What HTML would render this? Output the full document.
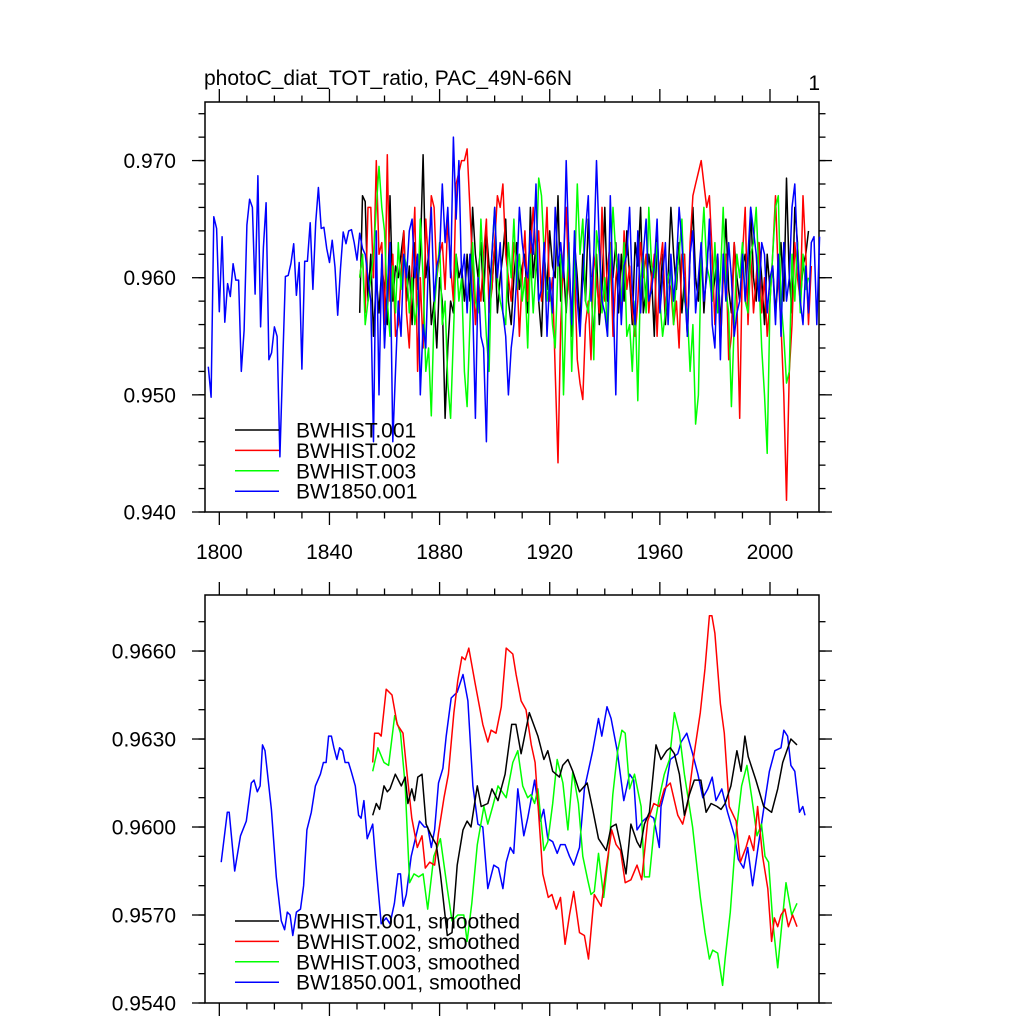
<!DOCTYPE html>
<html><head><meta charset="utf-8">
<style>
html,body{margin:0;padding:0;background:#fff;}
svg{display:block;font-family:"Liberation Sans",sans-serif;}
</style></head>
<body>
<svg id="chart" width="1024" height="1024" viewBox="0 0 1024 1024">
<text x="204" y="85" font-size="21">photoC_diat_TOT_ratio, PAC_49N-66N</text>
<text x="820" y="90" font-size="21" text-anchor="end">1</text>
<g id="top"></g>
<g id="bot"></g>
</svg>
<script>
// ---- data: top panel raw annual series (thousandths) ----
const blueStart = 1796;
const histStart = 1851;
const blueRaw = [952.4,949.8,965.2,964.2,957.1,963.5,956.2,959.5,958.4,961.2,959.8,959.8,952.0,955.5,964.5,966.7,966.0,958.6,968.7,955.8,962.6,966.4,953.0,953.6,955.8,955.0,944.7,952.4,960.1,960.2,961.2,962.9,958.5,961.3,952.2,961.4,961.4,964.7,959.0,964.7,967.7,964.2,964.3,962.5,961.3,963.2,960.9,956.8,960.8,963.9,962.9,964.0,964.1,963,961.5,963.8,962.5,
962,960,958,946,964,950,962,954,959,963,946,952,958,955,962,960,964,965,960,962,950,956,954,962,966,958,961,962,968,963,966,960,972,965,970,960,962,957,962,958,948,960,955,954,946,958,962,966,960,963,957,955,950,954,956,960,966,963,961,960,964,962,968,958,959,963,955,960,957,966,961,963,960,970,962,956,964,958,955,960,964,967,958,962,970,963,958,957,955,967,959,950,962,956,961,962,966,959,956,964,957,962,965,958,959,961,965,957,960,963,956,962,958,961,966,963,959,955,962,964,957,960,963,958,960,965,956,954,962,953,962,958,963,960,955,957,958,962,958,962,966,964,962,958,963,962,957,960,961,956,962,955,963,958,960,966,968,962,958,956,961,957,963,963.5,956,963.5];
const blackRaw = [957,967,966.5,958,962,955,960,957,961,959,956,967,958,961,960,962,964,958,961,956,963,959,962,970.5,960,962,956,958,954,960,958,948,954,958,957,962,960,961,958,962,958,966,962,960,963,958,964,961,959,963,957,960,962,965,958,956,960,963,959,961,962,957,966,960,963,958,955,962,959,964,961,960,967,958,961,957,962,955,963,960,956,962,958,965,960,954,962,956,959,966,958,961,960,963,957,962,958,964,960,956,963,961,966,957,959,962,960,955,964,958,962,956,960,966,962,959,963,957,960,955,962,966,960,958,963,957,961,964,958,960,962,956,960,965,959,957,963,960,958,961,962,957,966,960,958,963,960,956,962,959,961,957,960,963,958,968.5,960,957,966,963,958,961,962,964];
const redRaw = [960,962,957,966,966,960,970,962,963,956,970.5,958,962,955,956,960,964,957,954,961,966,952,960,954,965,961,967,966,960,962,963,959,965,961,958,968,969,970,970,971,966,961,956,960,958,962,965,957,959,963,967,966,968,962,960,958,963,961,955,960,964,958,962,966,962,964,958,961,966,958,960,952,944.2,956,962,966,959,957,961,953,951,949.6,956,958,953,962,960,957,966,958,961,963,955,960,962,957,964,959,961,957,955,958,963,960,962,957,960,962,955,961,963,957,960,959,956,958,954,962,962,955,963,967,968,969,970,968,966,967,962,956,962,954,960,962,953,955,963,958,948,962,966,956,962,957,960,963,957,960,955,958,962,967,960,956,950,941,952,956,963,960,958,967,962,956,961];
const greenRaw = [960,962,956,958,960,962,966,969.5,966,964,958,955,961,957,963,959,962,961,957,960,956,958,965,960,952,954,948.2,957,960,963,956,958,951,948,955,962,958,960,952,949,956,963,958,957,965,960,955,952,962,966,960,958,957,956,963,960,965,959,962,958,960,954,962,957,961,968.5,967,962,958,960,956,954,961,962,950,958,963,952,960,968,962,965,958,957,960,953,964,962,957,960,955,961,966,962,960,958,963,955,956,952,958,949.5,960,962,957,966,961,960,963,958,955,957,960,961,956,960,962,965,958,957,952,956,947.5,950,962,966,961,960,958,963,957,960,966,959,957,949,956,962,960,963,958,957,962,963,966,960,954,950,945,958,962,966,967,958,955,951,952,962,958,963,957,962,959,960];
// ---- data: bottom panel smoothed series (years, values x1e-4) ----
const blueSmYears = [1800.7,1802.9,1803.6,1805.6,1807.7,1809.8,1811.6,1812.6,1813.8,1814.8,1815.7,1816.6,1818.9,1820.7,1822.5,1823.7,1824.7,1825.7,1826.7,1828,1829.5,1830.6,1831.8,1833.4,1834.9,1836.7,1837.8,1838.8,1839.7,1840.7,1841.6,1842.7,1843.7,1844.8,1845.7,1846.9,1847.9,1849.4,1850.6,1851.5,1852.5,1853.7,1855.7,1856.9,1858.8,1860.6,1862,1863.6,1864.9,1865.8,1866.8,1867.9,1869.7,1872.7,1874.5,1875.7,1877,1878.2,1879.6,1881.2,1882.4,1884.2,1886.4,1888.5,1890.3,1892.1,1893.9,1895.7,1897.5,1899.7,1901.4,1903,1904.2,1905.7,1906.9,1908.4,1910.6,1912,1914.5,1916.6,1917.8,1919.3,1921.1,1922.7,1923.9,1925.6,1927.2,1928.7,1930.8,1932.6,1935.6,1937.7,1938.9,1940.8,1942.3,1944.5,1946.9,1949,1950.5,1951.7,1953.8,1956.2,1957.8,1959.8,1960.4,1962.3,1963.8,1966.5,1967.7,1969.8,1971.9,1973.8,1975.6,1977.4,1979,1980.4,1982.5,1984.6,1987.1,1988.5,1990.4,1991.9,1993.7,1995.5,1998,1999.8,2001.8,2004,2005,2006.4,2007.6,2009,2010.7,2011.9,2012.7];
const blueSm = [9588,9605,9605,9585,9597,9602,9615,9616,9612,9614,9628,9626,9606,9583,9568,9565,9571,9570,9563,9571,9572,9580,9599,9605,9614,9618,9622,9622,9631,9631,9627,9623,9627,9626,9622,9622,9619,9614,9604,9603,9609,9596,9601,9587,9567,9569,9567,9574,9584,9584,9573,9577,9590,9602,9600,9600,9593,9599,9615,9620,9631,9644,9646,9652,9643,9614,9601,9600,9579,9587,9586,9579,9588,9593,9591,9613,9597,9603,9616,9602,9606,9596,9595,9591,9594,9594,9590,9587,9593,9613,9626,9637,9631,9641,9637,9626,9609,9618,9616,9599,9602,9604,9603,9593,9607,9614,9623,9625,9629,9632,9625,9618,9610,9613,9617,9609,9613,9605,9597,9589,9586,9593,9580,9592,9608,9619,9626,9627,9633,9631,9621,9619,9605,9607,9604];
const redSmYears = [1855.7,1856.4,1857.9,1858.8,1860.6,1862.7,1864.6,1866.7,1868.2,1869.9,1871.9,1873.6,1874.8,1876.4,1878.2,1879.6,1881.6,1883.2,1885.2,1886.6,1888.1,1889.3,1890.6,1892.9,1895.7,1897.5,1898.7,1900.5,1902.4,1904.2,1906.6,1907.8,1909.6,1911.4,1913.3,1914.7,1917.5,1919.5,1920.8,1922.4,1923.9,1925.6,1927.2,1928.7,1930.8,1932.6,1934.1,1936.2,1938.7,1940.5,1942.5,1944.1,1945.7,1947.4,1949.5,1951.7,1953.4,1955.6,1957.8,1959.8,1961.6,1963.8,1966.5,1968.3,1970.1,1972.3,1974.7,1976.4,1978,1978.9,1980,1982,1983.4,1985.2,1987.7,1989.2,1991.3,1992.5,1994.1,1995.5,1997.3,1999.2,2000.6,2001.6,2002.8,2004,2005.4,2006.7,2008.2,2009.8];
const redSm = [9622,9632,9632,9631,9647,9645,9635,9632,9618,9603,9593,9597,9586,9588,9587,9598,9610,9618,9639,9650,9658,9657,9661,9649,9635,9629,9633,9632,9641,9661,9659,9652,9643,9640,9628,9622,9584,9576,9577,9572,9576,9560,9570,9578,9564,9563,9555,9577,9573,9586,9599,9594,9592,9581,9582,9587,9582,9602,9608,9607,9613,9615,9604,9601,9608,9624,9639,9654,9672,9672,9666,9642,9632,9607,9602,9588,9593,9597,9592,9607,9590,9579,9561,9569,9566,9570,9572,9566,9570,9566];
const blackSmYears = [1855.7,1857,1858.2,1859.8,1861,1862,1863.9,1866.1,1867.5,1868.5,1869.9,1870.9,1872.1,1873.6,1875.1,1877,1878.8,1880.3,1882.8,1884.5,1886.4,1888.5,1890,1891.4,1893.7,1895.1,1897.5,1899,1901.2,1903.8,1906.2,1907.7,1909.6,1912.6,1915.7,1917.9,1919.3,1921.1,1923.5,1924.7,1926.6,1928.4,1930.8,1933.6,1935.6,1937.7,1940.5,1942.3,1944.1,1945.7,1947.7,1949.5,1951.7,1952.9,1954.4,1956.2,1958.6,1960.4,1962.5,1963.8,1965.3,1967.1,1968.9,1970.7,1972.5,1974.9,1976.8,1978.6,1980.8,1982.2,1983.7,1985.8,1988,1989.5,1990.9,1992.1,1994.9,1997.7,2000.6,2002.8,2004.6,2007.6,2009.8];
const blackSm = [9604,9608,9606,9614,9612,9613,9618,9614,9617,9608,9613,9609,9617,9618,9601,9597,9594,9584,9563,9564,9587,9599,9602,9600,9614,9607,9608,9613,9609,9618,9635,9635,9625,9639,9631,9623,9626,9619,9617,9621,9623,9619,9612,9615,9606,9596,9592,9600,9601,9594,9584,9601,9595,9593,9601,9605,9628,9623,9626,9627,9625,9618,9604,9611,9616,9616,9605,9608,9607,9606,9608,9614,9626,9619,9631,9624,9616,9607,9605,9613,9622,9630,9628];
const greenSmYears = [1855.7,1857.6,1859.8,1861.5,1863.7,1865.8,1867.5,1869.1,1870.7,1872.4,1874,1875.7,1877.9,1880.3,1882.8,1884.5,1886.6,1888.8,1890,1891.7,1893.7,1896.1,1897.5,1899.3,1901.2,1904.2,1906.6,1908.4,1910.2,1912,1913.2,1914.5,1915.7,1917.9,1919.3,1921.1,1922.7,1924.8,1926.6,1928.4,1930.4,1932,1933.8,1935,1936.2,1937.7,1939.6,1941.3,1942.9,1944.7,1946.2,1947.4,1949,1950.8,1953.2,1954.4,1956.2,1958,1959.8,1961.6,1963.5,1965.3,1967.1,1968.9,1971.9,1974.7,1976.4,1978,1979.2,1981,1982.8,1983.7,1985.6,1987.7,1989.7,1991.6,1993.4,1995.3,1996.9,1998.2,1999.5,2001,2002.8,2004.2,2005.8,2007.9,2009.8];
const greenSm = [9619,9627,9622,9621,9638,9632,9614,9581,9584,9583,9584,9572,9590,9596,9579,9568,9570,9570,9561,9574,9594,9607,9601,9607,9614,9610,9622,9626,9614,9610,9611,9608,9613,9592,9595,9608,9623,9615,9599,9619,9608,9590,9582,9577,9578,9591,9576,9590,9611,9626,9633,9632,9613,9618,9607,9583,9583,9600,9610,9618,9623,9639,9632,9618,9600,9576,9564,9555,9558,9557,9546,9555,9571,9598,9614,9621,9610,9597,9601,9590,9588,9568,9552,9566,9581,9570,9574];
const xTickYears = [1800,1840,1880,1920,1960,2000];
const topYTicks = [0.940,0.950,0.960,0.970];
const topYLabels = ["0.940","0.950","0.960","0.970"];
const botYTicks = [0.954,0.957,0.960,0.963,0.966];
const botYLabels = ["0.9540","0.9570","0.9600","0.9630","0.9660"];
const seriesColors = ["#000000","#ff0000","#00ff00","#0000ff"];
const topLegend = ["BWHIST.001","BWHIST.002","BWHIST.003","BW1850.001"];
const botLegend = ["BWHIST.001, smoothed","BWHIST.002, smoothed","BWHIST.003, smoothed","BW1850.001, smoothed"];

const NS = "http://www.w3.org/2000/svg";
const L = 205, R = 819;
const xMin = 1794.8, xMax = 2017.8;
function xs(yr){ return L + (yr - xMin) / (xMax - xMin) * (R - L); }
function mk(tag, attrs, parent){ const e = document.createElementNS(NS, tag); for (const k in attrs) e.setAttribute(k, attrs[k]); parent.appendChild(e); return e; }

function panel(g, T, B, vMin, vMax, yTicks, yLabels, minorStep, showXLabels, nameP){
  const ys = v => B - (v - vMin) / (vMax - vMin) * (B - T);
  const ax = mk("g", {}, g);
  
  
  for (let yr = 1800; yr <= 2010; yr += 10) {
    const major = (yr - 1800) % 40 === 0;
    const len = major ? 13 : 6.5;
    const x = xs(yr);
    mk("line", {x1:x, x2:x, y1:B, y2:B+len, stroke:"#000", "stroke-width":1.3}, ax);
    mk("line", {x1:x, x2:x, y1:T, y2:T-len, stroke:"#000", "stroke-width":1.3}, ax);
  }
  if (showXLabels) xTickYears.forEach(yr => {
    const t = mk("text", {x:xs(yr), y:B+47, "font-size":21, "text-anchor":"middle"}, ax);
    
    
    t.textContent = yr;
  });
  const nMin = Math.round((vMax - vMin) / minorStep);
  for (let i = 0; i <= nMin; i++) {
    const v = vMin + i * minorStep; const y = ys(v);
    if (y < T - 0.5) continue;
    mk("line", {x1:L, x2:L-6.5, y1:y, y2:y, stroke:"#000", "stroke-width":1.3}, ax);
    mk("line", {x1:R, x2:R+6.5, y1:y, y2:y, stroke:"#000", "stroke-width":1.3}, ax);
  }
  yTicks.forEach((v, i) => {
    const y = ys(v);
    mk("line", {x1:L, x2:L-13, y1:y, y2:y, stroke:"#000", "stroke-width":1.3}, ax);
    mk("line", {x1:R, x2:R+13, y1:y, y2:y, stroke:"#000", "stroke-width":1.3}, ax);
    const t = mk("text", {x:L-29, y:y+7.5, "font-size":21, "text-anchor":"end"}, ax);
    
    
    t.textContent = yLabels[i];
  });
  const fr = mk("rect", {x:L, y:T, width:R-L, height:B-T, fill:"none", stroke:"#000", "stroke-width":1.5}, ax);
  
  
  return ys;
}

const gTop = document.getElementById("top");
const ysTop = panel(gTop, 102, 512, 0.940, 0.975, topYTicks, topYLabels, 0.002, true, "top");
function rawLine(arr, start, color, name){
  const pts = arr.map((v, i) => xs(start + i).toFixed(1) + "," + ysTop(v / 1000).toFixed(1)).join(" ");
  const p = mk("polyline", {points:pts, fill:"none", stroke:color, "stroke-width":1.5, "stroke-linejoin":"round"}, gTop);
  
  
}
rawLine(blackRaw, histStart, seriesColors[0], "bwhist-001-line");
rawLine(redRaw, histStart, seriesColors[1], "bwhist-002-line");
rawLine(greenRaw, histStart, seriesColors[2], "bwhist-003-line");
rawLine(blueRaw, blueStart, seriesColors[3], "bw1850-001-line");

const gBot = document.getElementById("bot");
const ysBot = panel(gBot, 595, 1003, 0.954, 0.96791, botYTicks, botYLabels, 0.001, false, "bottom");
function smLine(yrs, arr, color, name){
  const pts = arr.map((v, i) => xs(yrs[i]).toFixed(1) + "," + ysBot(v / 10000).toFixed(1)).join(" ");
  const p = mk("polyline", {points:pts, fill:"none", stroke:color, "stroke-width":1.5, "stroke-linejoin":"round"}, gBot);
  
  
}
smLine(blueSmYears, blueSm, seriesColors[3], "bw1850-001-smoothed-line");
smLine(greenSmYears, greenSm, seriesColors[2], "bwhist-003-smoothed-line");
smLine(redSmYears, redSm, seriesColors[1], "bwhist-002-smoothed-line");
smLine(blackSmYears, blackSm, seriesColors[0], "bwhist-001-smoothed-line");

function legend(g, labels, y0, name){
  const lg = mk("g", {}, g);
  
  
  labels.forEach((lab, i) => {
    const y = y0 + i * 20.4;
    mk("line", {x1:235, x2:279, y1:y, y2:y, stroke:seriesColors[i], "stroke-width":1.5}, lg);
    const t = mk("text", {x:296, y:y+7.5, "font-size":21}, lg);
    
    
    t.textContent = lab;
  });
}
legend(gTop, topLegend, 430, "top-legend");
legend(gBot, botLegend, 921, "bottom-legend");
</script>
</body></html>
